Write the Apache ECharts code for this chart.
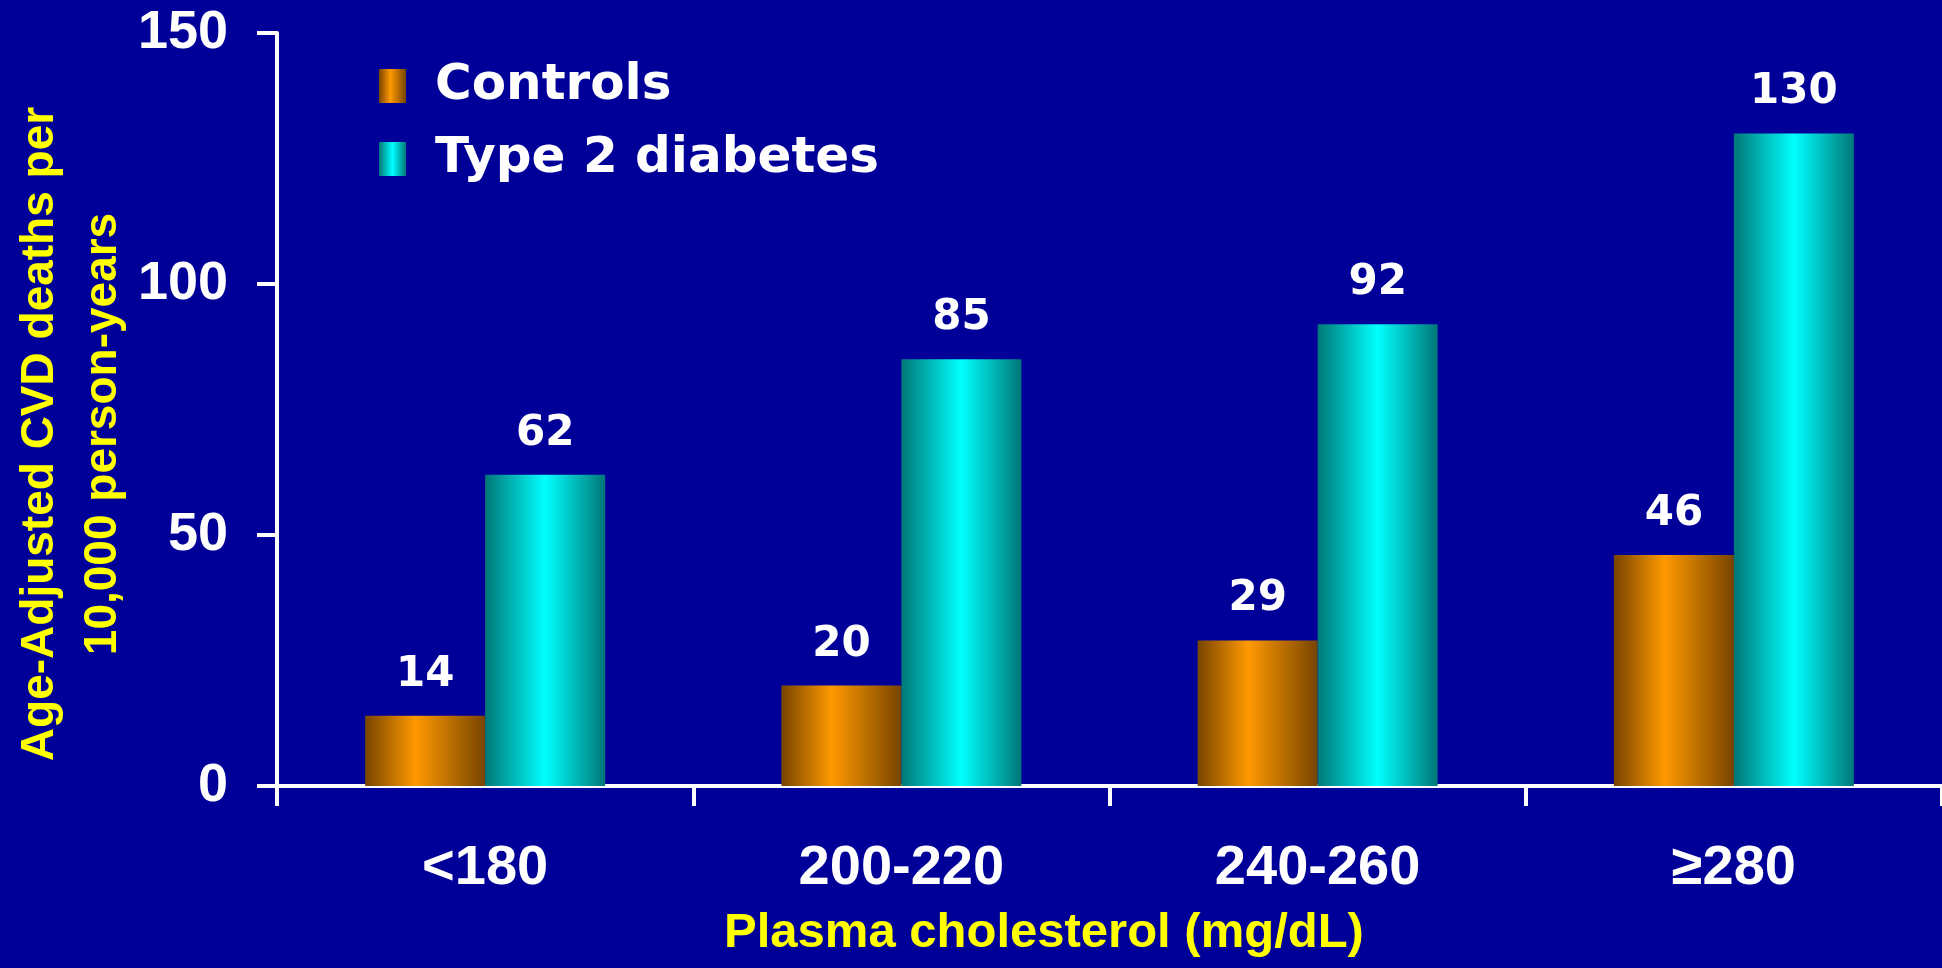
<!DOCTYPE html>
<html>
<head>
<meta charset="utf-8">
<script src="https://cdn.jsdelivr.net/npm/echarts@6/dist/echarts.min.js"></script>
<style>
  html, body { margin: 0; padding: 0; background: #000099; }
  #chart { width: 1942px; height: 968px; }
</style>
</head>
<body>
<div id="chart"></div>
<script>
// Cholesterol bands and CVD death rates per 10,000 person-years
const categories = ['<180', '200-220', '240-260', '≥280'];
const controlsValues = [14, 20, 29, 46];
const diabetesValues = [62, 85, 92, 130];
const seriesNames = ['Controls', 'Type 2 diabetes'];
const yMin = 0, yMax = 150, yStep = 50;
const xTitle = 'Plasma cholesterol (mg/dL)';
const yTitleLines = ['Age-Adjusted CVD deaths per', '10,000 person-years'];

const WHITE = '#ffffff';
const YELLOW = '#ffff00';
const NUM_FONT = '"Liberation Sans", Arial, sans-serif';
const WIDE_FONT = '"DejaVu Sans", Verdana, sans-serif';

// horizontal shading that makes each bar look like a rounded column
function column(edge, mid, peak) {
  return new echarts.graphic.LinearGradient(0, 0, 1, 0, [
    { offset: 0, color: edge },
    { offset: peak, color: mid },
    { offset: 1, color: edge }
  ]);
}

const chart = echarts.init(document.getElementById('chart'), null, { renderer: 'canvas' });

const valueLabel = {
  show: true,
  position: 'top',
  distance: 20,
  color: WHITE,
  fontFamily: WIDE_FONT,
  fontWeight: 'bold',
  fontSize: 42
};

chart.setOption({
  backgroundColor: '#000099',
  animation: false,
  grid: { left: 277, top: 33, width: 1672, height: 753, containLabel: false },
  legend: {
    data: seriesNames,
    orient: 'vertical',
    left: 374,
    top: 56,
    itemWidth: 27,
    itemHeight: 34,
    itemGap: 23,
    icon: 'rect',
    textStyle: {
      color: WHITE,
      fontFamily: WIDE_FONT,
      fontWeight: 'bold',
      fontSize: 50,
      lineHeight: 50,
      padding: [0, 0, 0, 24]
    }
  },
  xAxis: {
    type: 'category',
    data: categories,
    axisLine: { show: true, lineStyle: { color: WHITE, width: 4 } },
    axisTick: { show: true, length: 20, lineStyle: { color: WHITE, width: 4 } },
    axisLabel: {
      color: WHITE,
      fontFamily: NUM_FONT,
      fontWeight: 'bold',
      fontSize: 56,
      margin: 55
    },
    splitLine: { show: false }
  },
  yAxis: {
    type: 'value',
    min: yMin,
    max: yMax,
    interval: yStep,
    axisLine: { show: true, lineStyle: { color: WHITE, width: 4 } },
    axisTick: { show: true, length: 20, lineStyle: { color: WHITE, width: 4 } },
    axisLabel: {
      color: WHITE,
      fontFamily: NUM_FONT,
      fontWeight: 'bold',
      fontSize: 54,
      margin: 49
    },
    splitLine: { show: false }
  },
  series: [
    {
      name: seriesNames[0],
      type: 'bar',
      data: controlsValues,
      barWidth: 120,
      barGap: '0%',
      itemStyle: { color: column('#774400', '#ff9900', 0.42) },
      label: valueLabel
    },
    {
      name: seriesNames[1],
      type: 'bar',
      data: diabetesValues,
      barWidth: 120,
      barGap: '0%',
      itemStyle: { color: column('#007777', '#00ffff', 0.5) },
      label: valueLabel
    }
  ],
  graphic: [
    {
      type: 'text',
      x: 72,
      y: 434,
      rotation: Math.PI / 2,
      style: {
        text: yTitleLines.join('\n'),
        fill: YELLOW,
        font: 'bold 46px ' + NUM_FONT,
        lineHeight: 63,
        align: 'center',
        verticalAlign: 'middle'
      }
    },
    {
      type: 'text',
      x: 1044,
      y: 933,
      style: {
        text: xTitle,
        fill: YELLOW,
        font: 'bold 49px ' + NUM_FONT,
        align: 'center',
        verticalAlign: 'middle'
      }
    }
  ]
});
</script>
</body>
</html>
